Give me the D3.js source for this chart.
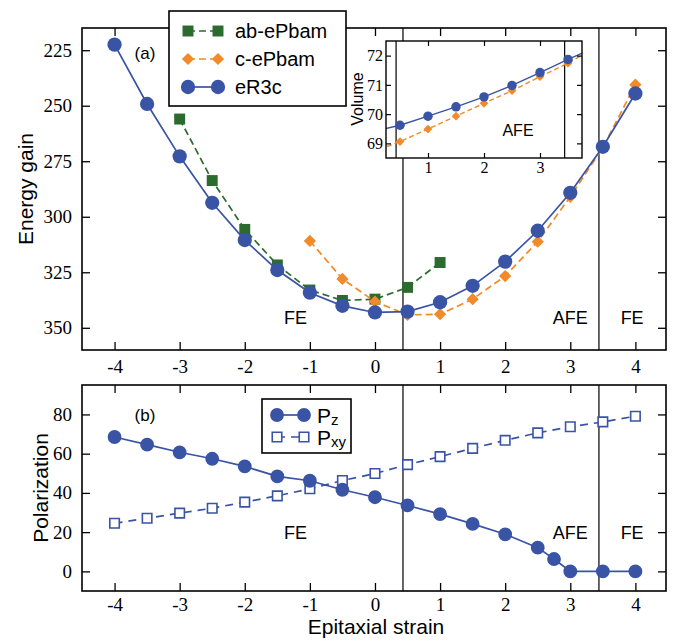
<!DOCTYPE html>
<html><head><meta charset="utf-8">
<script src="https://cdn.jsdelivr.net/npm/d3@7"></script>
<style>
body{margin:0;background:#fff;}
svg{display:block;}
.tick text{font-family:"Liberation Serif","Times New Roman",serif;}
</style>
</head><body>
<svg id="chart" width="673" height="641"></svg>
<script>
// ---------- data ----------
const strainR3c   = [-4,-3.5,-3,-2.5,-2,-1.5,-1,-0.5,0,0.5,1,1.5,2,2.5,3,3.5,4];
const energyR3c   = [222.5,249.2,272.8,293.7,310.5,324,334.2,340.1,343.1,342.7,338.5,331.1,320.2,306.3,289.2,268.5,244.5];
const strainAB    = [-3,-2.5,-2,-1.5,-1,-0.5,0,0.5,1];
const energyAB    = [256,283.7,305.7,321.7,333,337.7,337.1,331.8,320.6];
const strainC     = [-1,-0.5,0,0.5,1,1.5,2,2.5,3,3.5,4];
const energyC     = [310.9,328,338.2,344.2,343.9,337.1,326.7,311.2,291,268.8,240.5];

const strainVol   = [0,0.5,1,1.5,2,2.5,3,3.5,4];
const volR3c      = [69.4,69.62,69.93,70.25,70.59,70.98,71.42,71.87,72.29];
const volC        = [68.7,69.06,69.49,69.93,70.37,70.80,71.28,71.74,72.3];

const strainPz    = [-4,-3.5,-3,-2.5,-2,-1.5,-1,-0.5,0,0.5,1,1.5,2,2.5,2.75,3,3.5,4];
const pz          = [68.5,64.6,60.7,57.4,53.5,48.4,46.2,41.6,37.8,33.6,29.2,24.2,18.9,12.1,6.3,0,0,0];
const strainPxy   = [-4,-3.5,-3,-2.5,-2,-1.5,-1,-0.5,0,0.5,1,1.5,2,2.5,3,3.5,4];
const pxy         = [24.5,27.1,29.7,32.2,35.3,38.5,42.1,46.3,49.9,54.4,58.5,62.7,66.8,70.6,73.7,76.2,79.1];

const phaseBounds = [0.43,3.44];
const xTicks      = [-4,-3,-2,-1,0,1,2,3,4];
const energyTicks = [225,250,275,300,325,350];
const polTicks    = [0,20,40,60,80];
const volXTicks   = [1,2,3];
const volYTicks   = [69,70,71,72];
const phaseLabels = [{x:-1.22,t:"FE"},{x:3.0,t:"AFE"},{x:3.95,t:"FE"}];

const cBlue="#3953a5", cGreen="#2b6b2e", cOrange="#f08a2a";
const sans='"Liberation Sans",Arial,Helvetica,sans-serif';
const serif='"Liberation Serif","Times New Roman",serif';

const svg=d3.select("#chart");

// diamond = square rotated 45°
const diamondSym={draw(ctx,size){const r=Math.sqrt(size)/Math.SQRT2*1.0;
  ctx.moveTo(0,-r);ctx.lineTo(r,0);ctx.lineTo(0,r);ctx.lineTo(-r,0);ctx.closePath();}};

// ---------- scales ----------
const L=82,R=666;
const x=d3.scaleLinear().domain([-4.5,4.47]).range([L,R]);
const yTop=d3.scaleLinear().domain([215,360]).range([28,350]);
const yBot=d3.scaleLinear().domain([-10,95]).range([591,385]);

function frameAxes(g,y,yt,top,bottom,pad){
  const fmt=d=>String(d);
  g.append("g").attr("transform",`translate(0,${bottom})`)
    .call(d3.axisBottom(x).tickValues(xTicks).tickFormat(fmt).tickSize(-8).tickPadding(pad))
    .call(a=>a.select(".domain").remove());
  g.append("g").attr("transform",`translate(0,${top})`)
    .call(d3.axisTop(x).tickValues(xTicks).tickFormat("").tickSize(-8))
    .call(a=>a.select(".domain").remove());
  g.append("g").attr("transform",`translate(${L},0)`)
    .call(d3.axisLeft(y).tickValues(yt).tickFormat(fmt).tickSize(-8).tickPadding(10))
    .call(a=>a.select(".domain").remove());
  g.append("g").attr("transform",`translate(${R},0)`)
    .call(d3.axisRight(y).tickValues(yt).tickFormat("").tickSize(-8))
    .call(a=>a.select(".domain").remove());
  g.selectAll(".tick line").attr("stroke","#000").attr("stroke-width",1.3);
  g.selectAll(".tick text").attr("font-size",19).attr("font-family",serif).attr("fill","#000");
  phaseBounds.forEach(b=>{
    g.append("line").attr("x1",x(b)).attr("x2",x(b)).attr("y1",top).attr("y2",bottom)
      .attr("stroke","#000").attr("stroke-width",1.2);
  });
  g.append("rect").attr("x",L).attr("y",top).attr("width",R-L).attr("height",bottom-top)
    .attr("fill","none").attr("stroke","#000").attr("stroke-width",1.6);
}

function series(g,xs,ys,xS,yS,color,dash,marker,size,filled,lw){
  const line=d3.line().x((d,i)=>xS(xs[i])).y(d=>yS(d));
  g.append("path").datum(ys).attr("d",line).attr("fill","none").attr("stroke",color)
    .attr("stroke-width",lw||1.7).attr("stroke-dasharray",dash||null);
  g.selectAll(null).data(ys).enter().append("path")
    .attr("transform",(d,i)=>`translate(${xS(xs[i])},${yS(d)})`)
    .attr("d",d3.symbol().type(marker).size(size))
    .attr("fill",filled?color:"#fff").attr("stroke",filled?"none":color).attr("stroke-width",1.6);
}

// ---------- top panel ----------
const gTop=svg.append("g");
frameAxes(gTop,yTop,energyTicks,28,350,10);
series(gTop,strainAB,energyAB,x,yTop,cGreen,"7,4",d3.symbolSquare,120,true);
series(gTop,strainC,energyC,x,yTop,cOrange,"7,4",diamondSym,75,true);
series(gTop,strainR3c,energyR3c,x,yTop,cBlue,null,d3.symbolCircle,160,true);

gTop.append("text").attr("x",145).attr("y",59).attr("text-anchor","middle")
  .attr("font-family",sans).attr("font-size",17).text("(a)");
phaseLabels.forEach(p=>{
  gTop.append("text").attr("x",x(p.x)).attr("y",324).attr("text-anchor","middle")
    .attr("font-family",sans).attr("font-size",18).text(p.t);
});

// legend (a)
const lg=svg.append("g");
lg.append("rect").attr("x",169).attr("y",11).attr("width",177).attr("height",95)
  .attr("fill","#fff").attr("stroke","#000").attr("stroke-width",1.6);
const legA=[
  {t:"ab-ePbam",c:cGreen,dash:"7,4",m:d3.symbolSquare,s:120},
  {t:"c-ePbam",c:cOrange,dash:"7,4",m:diamondSym,s:75},
  {t:"eR3c",c:cBlue,dash:null,m:d3.symbolCircle,s:160}];
legA.forEach((e,i)=>{
  const yy=31+i*28;
  lg.append("line").attr("x1",188).attr("x2",218).attr("y1",yy).attr("y2",yy)
    .attr("stroke",e.c).attr("stroke-width",1.7).attr("stroke-dasharray",e.dash);
  [188,218].forEach(xx=>lg.append("path").attr("transform",`translate(${xx},${yy})`)
    .attr("d",d3.symbol().type(e.m).size(e.s)).attr("fill",e.c));
  lg.append("text").attr("x",235).attr("y",yy).attr("dy","0.35em")
    .attr("font-family",sans).attr("font-size",20).text(e.t);
});

// ---------- inset ----------
const xi=d3.scaleLinear().domain([0.25,3.75]).range([386,582]);
const yi=d3.scaleLinear().domain([68.5,72.5]).range([158,41]);
const gi=svg.append("g");
gi.append("rect").attr("x",386).attr("y",41).attr("width",196).attr("height",117).attr("fill","#fff");
gi.append("clipPath").attr("id","insetClip").append("rect")
  .attr("x",386).attr("y",41).attr("width",196).attr("height",117);
const gic=gi.append("g").attr("clip-path","url(#insetClip)");
phaseBounds.forEach(b=>{
  gic.append("line").attr("x1",xi(b)).attr("x2",xi(b)).attr("y1",41).attr("y2",158)
    .attr("stroke","#000").attr("stroke-width",1.2);
});
series(gic,strainVol,volC,xi,yi,cOrange,"5,3",diamondSym,38,true,1.4);
series(gic,strainVol,volR3c,xi,yi,cBlue,null,d3.symbolCircle,70,true,1.4);
const fmt=d=>String(d);
gi.append("g").attr("transform","translate(0,158)")
  .call(d3.axisBottom(xi).tickValues(volXTicks).tickFormat(fmt).tickSize(-5).tickPadding(4))
  .call(a=>a.select(".domain").remove());
gi.append("g").attr("transform","translate(0,41)")
  .call(d3.axisTop(xi).tickValues(volXTicks).tickFormat("").tickSize(-5))
  .call(a=>a.select(".domain").remove());
gi.append("g").attr("transform","translate(386,0)")
  .call(d3.axisLeft(yi).tickValues(volYTicks).tickFormat(fmt).tickSize(-5).tickPadding(3))
  .call(a=>a.select(".domain").remove());
gi.append("g").attr("transform","translate(582,0)")
  .call(d3.axisRight(yi).tickValues(volYTicks).tickFormat("").tickSize(-5))
  .call(a=>a.select(".domain").remove());
gi.selectAll(".tick line").attr("stroke","#000").attr("stroke-width",1.2);
gi.selectAll(".tick text").attr("font-size",16).attr("font-family",serif).attr("fill","#000");
gi.append("rect").attr("x",386).attr("y",41).attr("width",196).attr("height",117)
  .attr("fill","none").attr("stroke","#000").attr("stroke-width",1.4);
gi.append("text").attr("transform","translate(363,99) rotate(-90)").attr("text-anchor","middle")
  .attr("font-family",sans).attr("font-size",16).text("Volume");
gi.append("text").attr("x",518).attr("y",135.5).attr("text-anchor","middle")
  .attr("font-family",sans).attr("font-size",16).text("AFE");

// ---------- bottom panel ----------
const gBot=svg.append("g");
frameAxes(gBot,yBot,polTicks,385,591,7);
series(gBot,strainPxy,pxy,x,yBot,cBlue,"8,6",d3.symbolSquare,90,false);
series(gBot,strainPz,pz,x,yBot,cBlue,null,d3.symbolCircle,150,true);
gBot.append("text").attr("x",145).attr("y",421).attr("text-anchor","middle")
  .attr("font-family",sans).attr("font-size",17).text("(b)");
phaseLabels.forEach(p=>{
  gBot.append("text").attr("x",x(p.x)).attr("y",538.5).attr("text-anchor","middle")
    .attr("font-family",sans).attr("font-size",18).text(p.t);
});

// legend (b)
const lb=svg.append("g");
lb.append("rect").attr("x",262).attr("y",399).attr("width",89).attr("height",54)
  .attr("fill","#fff").attr("stroke","#000").attr("stroke-width",1.6);
const legB=[
  {p:"P",sub:"z",dash:null,m:d3.symbolCircle,s:150,filled:true},
  {p:"P",sub:"xy",dash:"8,6",m:d3.symbolSquare,s:90,filled:false}];
legB.forEach((e,i)=>{
  const yy=415+i*22;
  lb.append("line").attr("x1",277).attr("x2",304).attr("y1",yy).attr("y2",yy)
    .attr("stroke",cBlue).attr("stroke-width",1.7).attr("stroke-dasharray",e.dash);
  [277,304].forEach(xx=>lb.append("path").attr("transform",`translate(${xx},${yy})`)
    .attr("d",d3.symbol().type(e.m).size(e.s)).attr("fill",e.filled?cBlue:"#fff")
    .attr("stroke",e.filled?"none":cBlue).attr("stroke-width",1.6));
  const t=lb.append("text").attr("x",317).attr("y",yy+7.5)
    .attr("font-family",sans).attr("font-size",21);
  t.append("tspan").text(e.p);
  t.append("tspan").attr("font-size",15).attr("dy",2).text(e.sub);
});

// ---------- axis titles ----------
svg.append("text").attr("transform","translate(33,189) rotate(-90)").attr("text-anchor","middle")
  .attr("font-family",sans).attr("font-size",21).text("Energy gain");
svg.append("text").attr("transform","translate(48,488) rotate(-90)").attr("text-anchor","middle")
  .attr("font-family",sans).attr("font-size",21).text("Polarization");
svg.append("text").attr("x",376).attr("y",634).attr("text-anchor","middle")
  .attr("font-family",sans).attr("font-size",21).text("Epitaxial strain");
</script>
</body></html>
